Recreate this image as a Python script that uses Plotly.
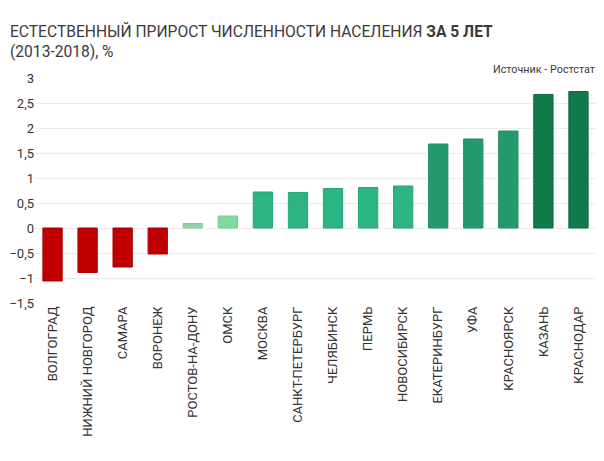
import plotly.graph_objects as go

cities = ["ВОЛГОГРАД", "НИЖНИЙ НОВГОРОД", "САМАРА", "ВОРОНЕЖ", "РОСТОВ-НА-ДОНУ", "ОМСК",
          "МОСКВА", "САНКТ-ПЕТЕРБУРГ", "ЧЕЛЯБИНСК", "ПЕРМЬ", "НОВОСИБИРСК",
          "ЕКАТЕРИНБУРГ", "УФА", "КРАСНОЯРСК", "КАЗАНЬ", "КРАСНОДАР"]
values = [-1.06, -0.89, -0.78, -0.52, 0.09, 0.24,
          0.72, 0.71, 0.79, 0.81, 0.84,
          1.68, 1.78, 1.94, 2.67, 2.73]
bar_colors = ["#c00000", "#c00000", "#c00000", "#c00000", "#93d3a8", "#7fdb9c",
              "#2cb483", "#2cb483", "#2cb483", "#2cb483", "#2cb483",
              "#249a6c", "#249a6c", "#249a6c", "#107a4a", "#107a4a"]
line_colors = ["#a80000"] * 4 + ["#85c79b", "#70cd8d"] + ["#27a576"] * 5 + ["#1f8c62"] * 3 + ["#0c6d41"] * 2
y_ticks = [3, 2.5, 2, 1.5, 1, 0.5, 0, -0.5, -1, -1.5]

fig = go.Figure(go.Bar(
    x=cities, y=values,
    marker=dict(color=bar_colors, line=dict(color=line_colors, width=1)),
    width=0.55,
))

fig.update_layout(
    width=604, height=461,
    margin=dict(l=27, r=16, t=70, b=166, autoexpand=False),
    paper_bgcolor="white", plot_bgcolor="white",
    separators=", ",
    showlegend=False,
    font=dict(family="Roboto, sans-serif", color="#333333", size=12),
    annotations=[
        dict(text="ЕСТЕСТВЕННЫЙ ПРИРОСТ ЧИСЛЕННОСТИ НАСЕЛЕНИЯ <b>ЗА 5 ЛЕТ</b><br>(2013-2018), %",
             xref="paper", yref="paper", x=-0.048, y=1.0, xanchor="left", yanchor="bottom",
             yshift=15, align="left", showarrow=False,
             font=dict(family="Roboto, sans-serif", size=15.6, color="#3a3a3a")),
        dict(text="Источник - Ростстат", xref="paper", yref="paper", x=1.002, y=1.0,
             xanchor="right", yanchor="bottom", yshift=0, showarrow=False,
             font=dict(family="Roboto, sans-serif", size=10.8, color="#3c3c3c")),
    ],
)
fig.update_xaxes(tickangle=-90, showgrid=False, showline=False, ticks="", automargin=False,
                 tickfont=dict(size=13, color="#333333"), range=[-0.5, 15.5])
fig.update_yaxes(range=[-1.5, 3], tickvals=y_ticks, showgrid=True, gridcolor="#ececec",
                 zeroline=False, showline=False, ticks="", automargin=False,
                 tickfont=dict(size=13, color="#333333"))

fig.write_html("out.html")
